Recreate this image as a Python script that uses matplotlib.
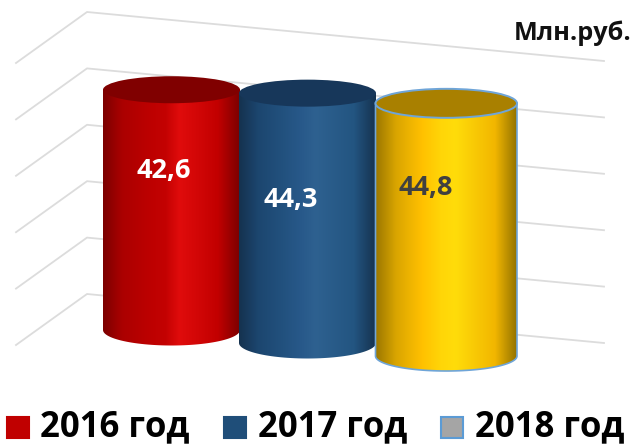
import numpy as np
import matplotlib
matplotlib.use("Agg")
import matplotlib.pyplot as plt
from matplotlib.colors import LinearSegmentedColormap
from matplotlib.patches import Ellipse, PathPatch, Rectangle
from matplotlib.path import Path

plt.rcParams["font.family"] = ["Open Sans", "DejaVu Sans"]

# data
years = ["2016 год", "2017 год", "2018 год"]
values = [42.6, 44.3, 44.8]
value_labels = ["42,6", "44,3", "44,8"]
grid_values = [0, 10, 20, 30, 40, 50]
unit_label = "Млн.руб."

# looks
PX_PER_UNIT = 5.64
left_edges = [103, 239, 375.5]
right_edges = [240, 376, 517]
base_y = [330, 343, 356]
top_ry = [13.5, 13.5, 14.5]
base_ry = [15.5, 15.5, 15]
top_colors = ["#800000", "#17375a", "#a98000"]
edge_colors = ["none", "none", "#6fa5d8"]
stops = [
    ["#7c0000", "#ab0000", "#bb0000", "#c40202", "#e00c0c", "#c20000", "#7c0000"],
    ["#15324f", "#1c466f", "#22517e", "#28598a", "#2e6190", "#235581", "#15324f"],
    ["#9c7800", "#d9a500", "#ffc000", "#ffd608", "#ffdc0a", "#f2b600", "#8f7000"],
]
stop_pos = [0, 0.14, 0.32, 0.46, 0.56, 0.84, 1]
text_colors = ["white", "white", "#404040"]
text_y = [171, 200, 188]
text_x = [163.5, 291, 426]
legend_colors = ["#c00000", "#1f4e79", "#a5a5a5"]
legend_edges = ["#c00000", "#1f4e79", "#5b9bd5"]
legend_x = [7, 224, 441]
legend_text_x = [40, 258, 475]

fig = plt.figure(figsize=(6.36, 4.47), dpi=100)
ax = fig.add_axes([0, 0, 1, 1])
ax.set_xlim(0, 636)
ax.set_ylim(447, 0)
ax.axis("off")

# back wall grid lines
for v in grid_values:
    back = 294 - v * PX_PER_UNIT
    ax.plot([16, 87, 604], [back + 51, back, back + 49], color="#dcdcdc", lw=1.3, zorder=1)

# cylinders
for i in range(len(values)):
    x0, x1 = left_edges[i], right_edges[i]
    cx = (x0 + x1) / 2
    rx = (x1 - x0) / 2
    y_base = base_y[i]
    y_top = y_base - values[i] * PX_PER_UNIT

    t = np.linspace(np.pi, 0, 60)
    bottom = np.column_stack([cx + rx * np.cos(t), y_base + base_ry[i] * np.sin(t)])
    pts = np.vstack([[[x0, y_top]], bottom, [[x1, y_top]], [[x0, y_top]]])
    body = PathPatch(Path(pts), facecolor="none", edgecolor="none", zorder=2 + i)
    ax.add_patch(body)

    cmap = LinearSegmentedColormap.from_list("c%d" % i, list(zip(stop_pos, stops[i])))
    grad = np.linspace(0, 1, 256).reshape(1, -1)
    im = ax.imshow(grad, cmap=cmap, extent=[x0, x1, y_base + 20, y_top], aspect="auto", zorder=2 + i)
    im.set_clip_path(body)

    if edge_colors[i] != "none":
        ax.plot(pts[:-1, 0], pts[:-1, 1], color=edge_colors[i], lw=1.2, zorder=2 + i)

    ax.add_patch(Ellipse((cx, y_top), 2 * rx, 2 * top_ry[i], facecolor=top_colors[i],
                         edgecolor=edge_colors[i], lw=1.4, zorder=2 + i))
    ax.text(text_x[i], text_y[i], value_labels[i], color=text_colors[i], fontsize=19.5,
            fontweight="bold", ha="center", va="center", zorder=10)

ax.set_xlim(0, 636)
ax.set_ylim(447, 0)

ax.text(632, 33, unit_label, fontsize=18.2, fontweight="bold", color="#111111",
        ha="right", va="center", zorder=10)

# legend
for i in range(len(years)):
    ax.add_patch(Rectangle((legend_x[i], 417), 22, 21, facecolor=legend_colors[i],
                           edgecolor=legend_edges[i], lw=1.5, zorder=10))
    ax.text(legend_text_x[i], 427, years[i], fontsize=25, fontweight="bold", color="black",
            ha="left", va="center", zorder=10)

plt.savefig("out.png", dpi=100)
